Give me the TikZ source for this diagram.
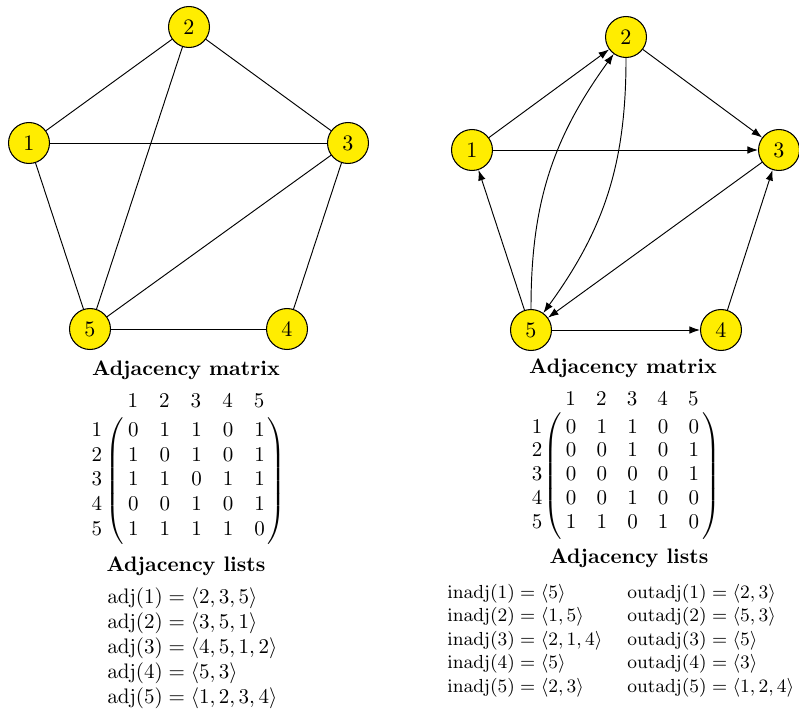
\documentclass[tikz,border=0pt]{standalone}
\usepackage{amsmath}
\usetikzlibrary{arrows.meta}
\definecolor{nodeyellow}{RGB}{255,237,0}
\newcommand{\bigpar}[1]{\delimiterfactor=1001 \delimitershortfall=-1pt
  $\left(\hspace{2pt}\begin{array}{@{}ccccc@{}}#1\end{array}\hspace{1.5pt}\right)$}
\begin{document}
\begin{tikzpicture}[x=0.476pt,y=-0.476pt,
  vert/.style={circle,draw=black,fill=nodeyellow,line width=0.5pt,minimum size=19.5pt,inner sep=0pt,font=\fontsize{10.5}{12}\selectfont},
  edge/.style={line width=0.45pt},
  arc/.style={line width=0.45pt,-{Latex[length=5pt,width=3.6pt]}},
  ttl/.style={font=\bfseries},
  txt/.style={inner sep=0pt},
  rtxt/.style={inner sep=0pt,font=\fontsize{9.6}{11.6}\selectfont},
  rlst/.style={inner sep=0pt,font=\fontsize{9.5}{11.2}\selectfont},
]
\useasboundingbox (0,0) rectangle (799,711);

% ---------- left graph ----------
\node[vert] (a1) at (29,143) {1};
\node[vert] (a2) at (189,27) {2};
\node[vert] (a3) at (348,143) {3};
\node[vert] (a4) at (287,329) {4};
\node[vert] (a5) at (90,329) {5};
\draw[edge] (a1) -- (a2);
\draw[edge] (a1) -- (a3);
\draw[edge] (a1) -- (a5);
\draw[edge] (a2) -- (a3);
\draw[edge] (a2) -- (a5);
\draw[edge] (a3) -- (a5);
\draw[edge] (a3) -- (a4);
\draw[edge] (a4) -- (a5);

% ---------- right graph ----------
\node[vert] (b1) at (472,150) {1};
\node[vert] (b2) at (626,37) {2};
\node[vert] (b3) at (779,150) {3};
\node[vert] (b4) at (721,330) {4};
\node[vert] (b5) at (531,330) {5};
\draw[arc] (b1) -- (b2);
\draw[arc] (b1) -- (b3);
\draw[arc] (b2) -- (b3);
\draw[arc] (b3) -- (b5);
\draw[arc] (b4) -- (b3);
\draw[arc] (b5) -- (b4);
\draw[arc] (b5) -- (b1);
\draw[arc] (b5) to[bend left=18] (b2);
\draw[arc] (b2) to[bend left=18] (b5);

% ---------- left matrix ----------
\node[ttl] (mtL) at (186,370) {Adjacency matrix};
\node[txt,anchor=base] (mhL) at (196,407) {$1\hspace{10pt}2\hspace{10pt}3\hspace{10pt}4\hspace{10pt}5$};
\node[txt] (mrL) at (97,481) {\def\arraystretch{0.975}$\begin{array}{@{}c@{}}1\\2\\3\\4\\5\end{array}$};
\node[txt] (mmL) at (196,481) {\def\arraystretch{0.975}\bigpar{0&1&1&0&1\\1&0&1&0&1\\1&1&0&1&1\\0&0&1&0&1\\1&1&1&1&0}};

% ---------- right matrix ----------
\node[ttl] (mtR) at (623,368) {Adjacency matrix};
\node[rtxt,anchor=base] (mhR) at (632,405) {$1\hspace{9.6pt}2\hspace{9.6pt}3\hspace{9.6pt}4\hspace{9.6pt}5$};
\node[rtxt] (mrR) at (537,476) {\def\arraystretch{0.975}$\begin{array}{@{}c@{}}1\\2\\3\\4\\5\end{array}$};
\node[rtxt] (mmR) at (632,476) {\def\arraystretch{0.975}\arraycolsep=4.8pt\bigpar{0&1&1&0&0\\0&0&1&0&1\\0&0&0&0&1\\0&0&1&0&0\\1&1&0&1&0}};

% ---------- left lists ----------
\node[ttl] (ltL) at (186,566) {Adjacency lists};
\node[txt,anchor=base west] (lsL) at (107,603) {\def\arraystretch{1}\begin{tabular}[t]{@{}l@{}}
$\mathrm{adj}(1)=\langle 2,3,5\rangle$\\
$\mathrm{adj}(2)=\langle 3,5,1\rangle$\\
$\mathrm{adj}(3)=\langle 4,5,1,2\rangle$\\
$\mathrm{adj}(4)=\langle 5,3\rangle$\\
$\mathrm{adj}(5)=\langle 1,2,3,4\rangle$
\end{tabular}};

% ---------- right lists ----------
\node[ttl] (ltR) at (629,558) {Adjacency lists};
\node[rlst,anchor=base west] (lsRi) at (447,598) {\begin{tabular}[t]{@{}l@{}}
$\mathrm{inadj}(1)=\langle 5\rangle$\\
$\mathrm{inadj}(2)=\langle 1,5\rangle$\\
$\mathrm{inadj}(3)=\langle 2,1,4\rangle$\\
$\mathrm{inadj}(4)=\langle 5\rangle$\\
$\mathrm{inadj}(5)=\langle 2,3\rangle$
\end{tabular}};
\node[rlst,anchor=base west] (lsRo) at (627,598) {\begin{tabular}[t]{@{}l@{}}
$\mathrm{outadj}(1)=\langle 2,3\rangle$\\
$\mathrm{outadj}(2)=\langle 5,3\rangle$\\
$\mathrm{outadj}(3)=\langle 5\rangle$\\
$\mathrm{outadj}(4)=\langle 3\rangle$\\
$\mathrm{outadj}(5)=\langle 1,2,4\rangle$
\end{tabular}};
\end{tikzpicture}
\end{document}
